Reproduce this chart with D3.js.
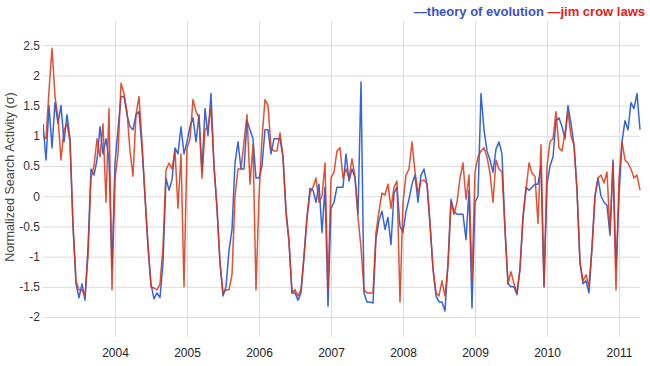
<!DOCTYPE html>
<html>
<head>
<meta charset="utf-8">
<script src="https://cdn.jsdelivr.net/npm/d3@7/dist/d3.min.js"></script>
<style>
body { margin: 0; background: #fff; }
svg { font-family: Arial, "Liberation Sans", sans-serif; }
</style>
</head>
<body>
<svg id="chart" width="650" height="366"></svg>
<script>
// half-monthly samples, one row per year, starting jan 2003
var startYear = 2003;
var perYear = 24;

var yearTicks = [2004, 2005, 2006, 2007, 2008, 2009, 2010, 2011];
var valueTicks = [-2, -1.5, -1, -0.5, 0, 0.5, 1, 1.5, 2, 2.5];

var seriesNames = ["theory of evolution", "jim crow laws"];
var seriesColors = ["#3366dd", "#dd3311"];

var evolution = [
	[1.2, 0.6, 1.5, 0.8, 1.55, 1.2, 1.5, 0.9, 1.35, 0.95, -0.5, -1.45, -1.68, -1.45, -1.72, -0.85, 0.45, 0.35, 0.6, 1.15, 0.7, 0.95, 0.6, -1.2],
	[0.55, 1.1, 1.65, 1.65, 1.35, 1.15, 1.1, 1.35, 1.4, 0.8, 0.0, -0.85, -1.45, -1.7, -1.6, -1.68, -1.1, 0.3, 0.1, 0.27, 0.8, 0.7, 1.15, 0.7],
	[0.9, 1.15, 1.3, 0.9, 1.35, 0.4, 1.45, 1.0, 1.7, 0.5, -0.2, -1.1, -1.65, -1.5, -0.9, -0.55, 0.55, 0.9, 0.45, 0.45, 1.25, 1.1, 0.95, 0.3],
	[0.3, 0.5, 1.1, 1.1, 0.7, 0.95, 0.95, 0.95, 0.65, -0.25, -0.75, -1.6, -1.6, -1.72, -1.6, -1.0, -0.35, 0.13, 0.1, -0.1, 0.2, -0.6, 0.15, -1.82],
	[-0.2, -0.1, 0.15, 0.15, 0.15, 0.7, 0.25, 0.45, 0.3, -0.3, 1.89, -1.6, -1.75, -1.75, -1.77, -0.7, -0.4, -0.25, -0.55, -0.35, -0.8, 0.05, 0.15, -0.5],
	[-0.6, -0.25, -0.05, 0.2, 0.35, -0.1, 0.35, 0.45, 0.2, -0.45, -1.2, -1.65, -1.75, -1.75, -1.9, -1.1, -0.05, -0.25, -0.3, -0.3, -0.3, -0.72, 0.1, -1.85],
	[-0.1, 0.0, 1.7, 1.1, 0.75, 0.6, 0.4, 0.78, 0.9, 0.7, -0.55, -1.45, -1.5, -1.5, -1.63, -1.2, -0.35, 0.15, 0.1, 0.15, 0.2, 0.2, 0.5, -1.5],
	[0.2, 0.5, 0.65, 1.25, 1.3, 1.15, 0.95, 1.5, 1.2, 0.85, 0.1, -1.1, -1.45, -1.4, -1.6, -0.85, 0.0, 0.3, 0.0, -0.1, -0.15, -0.65, 0.6, -1.2],
	[0.0, 0.9, 1.25, 1.1, 1.55, 1.45, 1.7, 1.1]
];

var jimcrow = [
	[1.0, 0.95, 1.75, 2.45, 1.65, 1.3, 0.6, 1.1, 1.2, 0.9, -0.45, -1.4, -1.55, -1.55, -1.65, -1.0, 0.3, 0.5, 0.95, 0.65, 1.2, -0.1, 1.45, -1.55],
	[0.3, 0.7, 1.87, 1.7, 1.4, 0.75, 0.33, 1.35, 1.65, 0.9, 0.0, -0.8, -1.5, -1.52, -1.55, -1.45, -0.85, 0.43, 0.55, 0.45, 0.75, -0.2, 0.7, -1.5],
	[0.8, 0.95, 1.6, 1.4, 1.3, 0.3, 1.1, 1.15, 1.45, 0.5, -0.2, -1.1, -1.6, -1.55, -1.55, -1.3, 0.0, 0.45, 0.45, 0.9, 1.35, 0.2, 0.85, -1.55],
	[0.0, 0.95, 1.6, 1.5, 0.8, 0.75, 0.75, 1.05, 0.65, -0.25, -0.75, -1.6, -1.55, -1.65, -1.55, -1.0, -0.35, 0.05, 0.15, 0.3, -0.1, 0.0, 0.55, -1.55],
	[0.3, 0.4, 0.75, 0.8, 0.3, 0.45, 0.3, 0.62, 0.33, -0.35, -0.85, -1.55, -1.6, -1.6, -1.6, -0.6, -0.25, 0.05, 0.02, 0.2, -0.2, 0.15, 0.25, -1.75],
	[-0.1, 0.35, 0.45, 0.9, 0.4, 0.05, 0.25, 0.27, 0.2, -0.45, -1.2, -1.6, -1.65, -1.4, -1.65, -1.15, -0.1, -0.3, -0.1, 0.3, 0.55, -0.05, 0.35, -1.4],
	[0.4, 0.65, 0.75, 0.8, 0.65, 0.38, -0.1, 0.6, 0.45, 0.4, -0.55, -1.45, -1.25, -1.45, -1.6, -1.2, -0.35, 0.1, 0.55, 0.38, 0.33, -0.45, 0.85, -1.5],
	[0.5, 0.9, 0.95, 1.4, 0.8, 0.75, 1.05, 1.4, 1.0, 0.85, 0.1, -1.1, -1.4, -1.3, -1.5, -0.85, 0.0, 0.3, 0.35, 0.22, 0.4, -0.6, 0.55, -1.55],
	[0.3, 0.9, 0.6, 0.55, 0.45, 0.3, 0.35, 0.1]
];

function flatten(rows) {
	var out = [];
	for(var r = 0; r < rows.length; r++)
		for(var j = 0; j < rows[r].length; j++)
			out.push({t: startYear + r + j / perYear, v: rows[r][j]});
	return out;
}

function draw() {
	var plotLeft = 43, plotRight = 640, plotTop = 21, plotBottom = 337;

	var x = d3.scaleLinear()
		.domain([startYear, startYear + (plotRight - plotLeft) / 72])
		.range([plotLeft, plotRight]);

	var y = d3.scaleLinear()
		.domain([-2.33, 2.9])
		.range([plotBottom, plotTop]);

	var svg = d3.select("#chart");

	// grid + tick labels
	var xAxis = svg.append("g")
		.attr("transform", "translate(0," + plotBottom + ")")
		.call(d3.axisBottom(x).tickValues(yearTicks).tickFormat(d3.format("d"))
			.tickSizeInner(-(plotBottom - plotTop)).tickSizeOuter(0).tickPadding(11));
	xAxis.select(".domain").remove();
	xAxis.selectAll("line").attr("stroke", "#dcdcdc");
	xAxis.selectAll("text").attr("fill", "#222").style("font-size", "12px");

	var yAxis = svg.append("g")
		.attr("transform", "translate(" + plotLeft + ",0)")
		.call(d3.axisLeft(y).tickValues(valueTicks).tickFormat(function(d) { return String(d); })
			.tickSizeInner(-(plotRight - plotLeft)).tickSizeOuter(0).tickPadding(3));
	yAxis.select(".domain").remove();
	yAxis.selectAll("line").attr("stroke", "#dcdcdc");
	yAxis.selectAll("text").attr("fill", "#333").style("font-size", "12px");

	svg.append("text")
		.attr("transform", "translate(14,177) rotate(-90)")
		.attr("text-anchor", "middle")
		.attr("fill", "#444")
		.style("font-size", "12.6px")
		.text("Normalized Search Activity (\u03c3)");

	svg.append("clipPath").attr("id", "plot")
		.append("rect").attr("x", plotLeft).attr("y", plotTop)
		.attr("width", plotRight - plotLeft + 1).attr("height", plotBottom - plotTop);

	var line = d3.line()
		.x(function(d) { return x(d.t); })
		.y(function(d) { return y(d.v); });

	var lines = svg.append("g").attr("clip-path", "url(#plot)");
	[evolution, jimcrow].forEach(function(rows, i) {
		lines.append("path")
			.datum(flatten(rows))
			.attr("d", line)
			.attr("fill", "none")
			.attr("stroke", seriesColors[i])
			.attr("stroke-width", 1.5)
			.attr("stroke-opacity", i == 1 ? 0.85 : 1)
			.attr("stroke-linejoin", "round");
	});

	// legend, right aligned at the top
	var legend = svg.append("text")
		.attr("x", 645)
		.attr("y", 16)
		.attr("text-anchor", "end")
		.style("font-size", "13px")
		.style("font-weight", "bold");
	legend.append("tspan").attr("fill", "#3a52c8").text("\u2014" + seriesNames[0] + " ");
	legend.append("tspan").attr("fill", "#e0201a").text("\u2014" + seriesNames[1]);
}

draw();
</script>
</body>
</html>
